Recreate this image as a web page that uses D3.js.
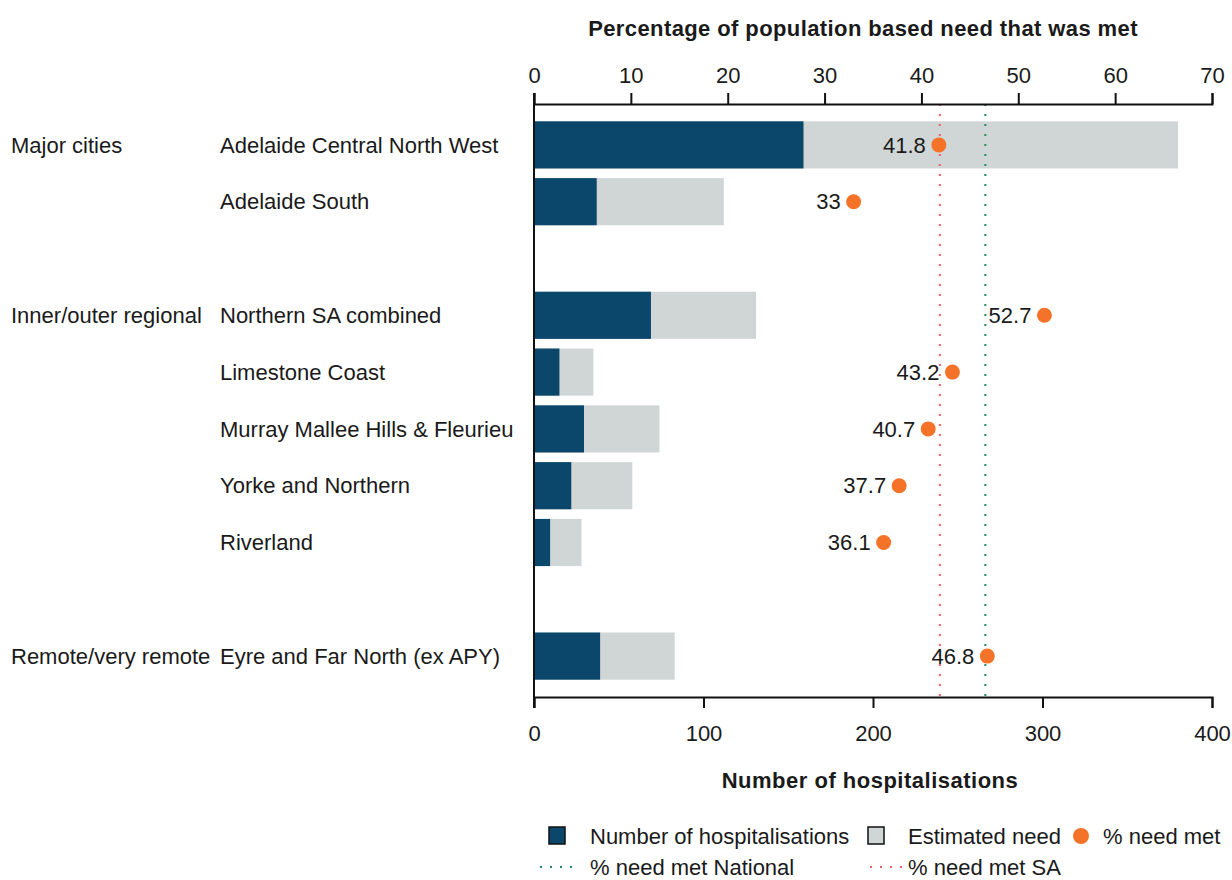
<!DOCTYPE html>
<html>
<head>
<meta charset="utf-8">
<title>Hospitalisations vs estimated need</title>
<script src="https://d3js.org/d3.v7.min.js"></script>
<style>
    body { margin: 0; background: #fff; }
    svg text { font-family: "Liberation Sans", Arial, sans-serif; fill: #1a1a1a; }
</style>
</head>
<body>
<div id="chart"></div>
<script>
// data
var remoteness = ["Major cities", "", "", "Inner/outer regional", "", "", "", "", "", "Remote/very remote"];
var regions = ["Adelaide Central North West", "Adelaide South", "", "Northern SA combined", "Limestone Coast",
    "Murray Mallee Hills & Fleurieu", "Yorke and Northern", "Riverland", "", "Eyre and Far North (ex APY)"];
var hospitalisations = [159, 37, null, 69, 15, 29.5, 22, 9.5, null, 39];
var estimatedNeed = [380, 112, null, 131, 35, 74, 58, 28, null, 83];
var pctNeedMet = [41.8, 33, null, 52.7, 43.2, 40.7, 37.7, 36.1, null, 46.8];
var pctNational = 46.6;
var pctSA = 41.9;

var W = 1232, H = 880;
var mL = 534, mR = 1212, mT = 104, mB = 697;
var fs = 22;

var svg = d3.select("#chart").append("svg")
    .attr("width", W).attr("height", H);

var x = d3.scaleLinear().domain([0, 400]).range([mL, mR]);
var xp = d3.scaleLinear().domain([0, 70]).range([mL, mR]);
var y = d3.scalePoint().domain(d3.range(regions.length)).range([mT, mB]).padding(0.72);
var barH = y.step() * 0.83;

var rows = d3.range(regions.length).filter(function (i) { return hospitalisations[i] != null; });

// estimated need (grey) then hospitalisations (dark)
svg.selectAll("rect.need").data(rows).enter().append("rect")
    .attr("x", x(0)).attr("y", function (i) { return y(i) - barH / 2; })
    .attr("width", function (i) { return x(estimatedNeed[i]) - x(0); })
    .attr("height", barH).attr("fill", "#d0d5d5");
svg.selectAll("rect.hosp").data(rows).enter().append("rect")
    .attr("x", x(0)).attr("y", function (i) { return y(i) - barH / 2; })
    .attr("width", function (i) { return x(hospitalisations[i]) - x(0); })
    .attr("height", barH).attr("fill", "#0b476b");

// reference lines
svg.append("line").attr("x1", xp(pctSA)).attr("x2", xp(pctSA)).attr("y1", mT).attr("y2", mB)
    .attr("stroke", "#f0606a").attr("stroke-width", 2).attr("stroke-dasharray", "2,8");
svg.append("line").attr("x1", xp(pctNational)).attr("x2", xp(pctNational)).attr("y1", mT).attr("y2", mB)
    .attr("stroke", "#1f8a5c").attr("stroke-width", 2).attr("stroke-dasharray", "2,8");

// % need met dots + labels
svg.selectAll("circle.pct").data(rows).enter().append("circle")
    .attr("cx", function (i) { return xp(pctNeedMet[i]); })
    .attr("cy", function (i) { return y(i); })
    .attr("r", 7.5).attr("fill", "#f47328");
svg.selectAll("text.pct").data(rows).enter().append("text")
    .attr("x", function (i) { return xp(pctNeedMet[i]) - 13; })
    .attr("y", function (i) { return y(i); })
    .attr("dy", "0.35em").attr("text-anchor", "end").attr("font-size", fs)
    .text(function (i) { return pctNeedMet[i]; });

// axes
var axTop = svg.append("g").attr("transform", "translate(0," + mT + ")")
    .call(d3.axisTop(xp).tickValues(d3.range(0, 71, 10)).tickSizeOuter(0).tickSize(11).tickPadding(10));
var axBot = svg.append("g").attr("transform", "translate(0," + mB + ")")
    .call(d3.axisBottom(x).tickValues(d3.range(0, 401, 100)).tickSizeOuter(0).tickSize(11).tickPadding(17));
[axTop, axBot].forEach(function (g) {
    g.select(".domain").attr("stroke", "#111").attr("stroke-width", 2);
    g.selectAll(".tick line").attr("stroke", "#111").attr("stroke-width", 2);
    g.selectAll(".tick text").attr("font-size", fs).attr("font-family", "Liberation Sans, Arial, sans-serif").attr("fill", "#1a1a1a");
});
svg.append("line").attr("x1", mL).attr("x2", mL).attr("y1", mT - 11).attr("y2", mB + 11)
    .attr("stroke", "#111").attr("stroke-width", 2);

// axis titles
svg.append("text").attr("x", 863).attr("y", 36).attr("text-anchor", "middle")
    .attr("font-size", 22).attr("font-weight", "bold").attr("letter-spacing", 0.4)
    .text("Percentage of population based need that was met");
svg.append("text").attr("x", 870).attr("y", 788).attr("text-anchor", "middle")
    .attr("font-size", 22).attr("font-weight", "bold").attr("letter-spacing", 0.5)
    .text("Number of hospitalisations");

// row labels
svg.selectAll("text.reg").data(d3.range(regions.length)).enter().append("text")
    .attr("x", 220).attr("y", function (i) { return y(i); }).attr("dy", "0.35em")
    .attr("font-size", fs).text(function (i) { return regions[i]; });
svg.selectAll("text.rem").data(d3.range(remoteness.length)).enter().append("text")
    .attr("x", 11).attr("y", function (i) { return y(i); }).attr("dy", "0.35em")
    .attr("font-size", fs).text(function (i) { return remoteness[i]; });

// legend
var lg = svg.append("g");
lg.append("rect").attr("x", 549).attr("y", 827).attr("width", 16).attr("height", 17)
    .attr("fill", "#0b476b").attr("stroke", "#111").attr("stroke-width", 1.5);
lg.append("text").attr("x", 590).attr("y", 836).attr("dy", "0.35em").attr("font-size", fs).text("Number of hospitalisations");
lg.append("rect").attr("x", 868).attr("y", 827).attr("width", 16).attr("height", 17)
    .attr("fill", "#d0d5d5").attr("stroke", "#111").attr("stroke-width", 1.5);
lg.append("text").attr("x", 908).attr("y", 836).attr("dy", "0.35em").attr("font-size", fs).text("Estimated need");
lg.append("circle").attr("cx", 1081).attr("cy", 836).attr("r", 8).attr("fill", "#f47328");
lg.append("text").attr("x", 1103).attr("y", 836).attr("dy", "0.35em").attr("font-size", fs).text("% need met");
lg.append("line").attr("x1", 540).attr("x2", 576).attr("y1", 867).attr("y2", 867)
    .attr("stroke", "#1f8a5c").attr("stroke-width", 2).attr("stroke-dasharray", "2,8");
lg.append("text").attr("x", 590).attr("y", 867).attr("dy", "0.35em").attr("font-size", fs).text("% need met National");
lg.append("line").attr("x1", 870).attr("x2", 906).attr("y1", 867).attr("y2", 867)
    .attr("stroke", "#f0606a").attr("stroke-width", 2).attr("stroke-dasharray", "2,8");
lg.append("text").attr("x", 908).attr("y", 867).attr("dy", "0.35em").attr("font-size", fs).text("% need met SA");
</script>
</body>
</html>
